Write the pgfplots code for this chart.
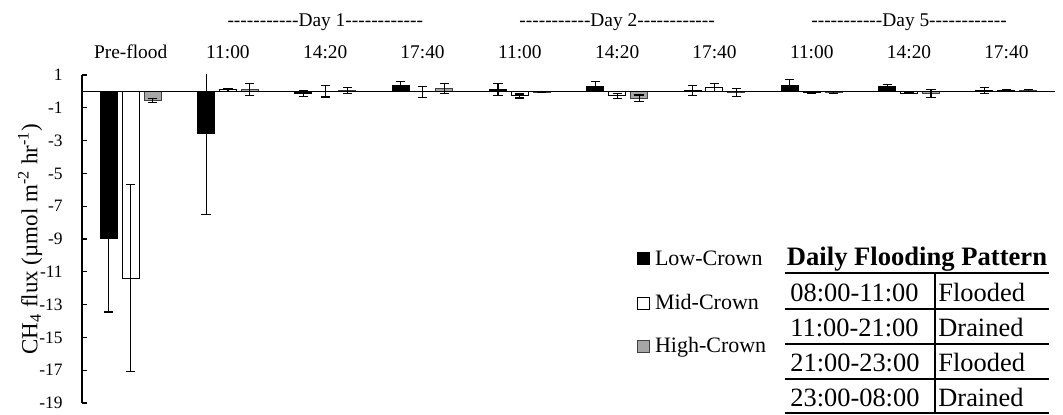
\documentclass[border=0pt]{standalone}
\usepackage{pgfplots}
\pgfplotsset{compat=1.18}
\usepackage{fontspec}
\setmainfont{Liberation Serif}
\definecolor{hc}{RGB}{166,166,166}
\pgfplotsset{sqlegend/.style={legend image code/.code={\draw[##1] (0pt,-2.5pt) rectangle (6pt,3.5pt);}}}
\newcommand{\dsh}[1]{\foreach \k in {1,...,#1}{-}}
\begin{document}
\begin{tikzpicture}
\useasboundingbox (-41pt,-6pt) rectangle (490.5pt,201.5pt);
\begin{axis}[
  at={(0pt,0pt)}, anchor=south west,
  scale only axis, width=486.5pt, height=164pt,
  xmin=-0.5, xmax=9.5, ymin=-19, ymax=1,
  clip mode=individual,
  axis x line=top, axis y line=left,
  axis line style={-},
  x axis line style={draw=none},
  y axis line style={line width=0.6pt},
  xtick={0,...,9},
  xticklabels={Pre-flood,11:00,14:20,17:40,11:00,14:20,17:40,11:00,14:20,17:40},
  xtick style={draw=none},
  xticklabel style={font=\fontsize{9.7}{11}\selectfont, inner sep=0pt, text depth=0pt, anchor=base, yshift=8pt},
  ytick={1,-1,-3,-5,-7,-9,-11,-13,-15,-17,-19},
  tick align=inside, major tick length=2.5pt,
  ytick style={line width=0.6pt, black},
  yticklabel style={font=\fontsize{8.7}{10}\selectfont, inner sep=0pt, anchor=east, xshift=-9.5pt},
  /pgf/number format/assume math mode=true,
  ylabel={CH\textsubscript{4} flux (µmol m\textsuperscript{-2} hr\textsuperscript{-1})},
  ylabel style={at={(axis description cs:-0.0534,0.5)}, anchor=center, font=\fontsize{11.5}{13}\selectfont},
  legend style={draw=none, fill=none, inner sep=0pt, outer sep=0pt,
    at={(axis description cs:0.5704,0.4695)}, anchor=north west,
    font=\fontsize{11}{13}\selectfont, row sep=11pt,
    nodes={inner sep=0pt, text height=8pt, text depth=3pt},
    /tikz/every odd column/.append style={column sep=2.5pt}},
  legend cell align=left,
  error bars/y dir=both, error bars/y explicit,
  error bars/error bar style={line width=0.55pt, black},
  error bars/error mark options={rotate=90, mark size=2.3pt, line width=0.55pt, black},
]
% Low-Crown (x = category - 0.225)
\addplot[ybar, bar width=0.175, bar shift=0, fill=black, draw=black, line width=0.5pt, sqlegend]
  coordinates {
  (-0.225,-9.0) +- (0,4.45)
  (0.775,-2.55) +- (0,4.95)
  (1.775,-0.13) +- (0,0.2)
  (2.775,0.37) +- (0,0.25)
  (3.775,0.11) +- (0,0.36)
  (4.775,0.32) +- (0,0.28)
  (5.775,0.06) +- (0,0.31)
  (6.775,0.37) +- (0,0.33)
  (7.775,0.27) +- (0,0.13)
  (8.775,0.06) +- (0,0.2)
  };
% Mid-Crown (x = category)
\addplot[ybar, bar width=0.175, bar shift=0, fill=white, draw=black, line width=0.5pt, sqlegend]
  coordinates {
  (0,-11.4) +- (0,5.7)
  (1,0.1) +- (0,0.1)
  (2,0.02) +- (0,0.36)
  (3,-0.03) +- (0,0.32)
  (4,-0.28) +- (0,0.12)
  (5,-0.28) +- (0,0.15)
  (6,0.25) +- (0,0.25)
  (7,-0.05) +- (0,0.05)
  (8,-0.1) +- (0,0.05)
  (9,0.08) +- (0,0.05)
  };
% High-Crown (x = category + 0.225)
\addplot[ybar, bar width=0.175, bar shift=0, fill=hc, draw=black!75, line width=0.5pt, sqlegend]
  coordinates {
  (0.225,-0.55) +- (0,0.12)
  (1.225,0.13) +- (0,0.37)
  (2.225,0.05) +- (0,0.2)
  (3.225,0.18) +- (0,0.3)
  (4.225,-0.05) +- (0,0.03)
  (5.225,-0.42) +- (0,0.2)
  (6.225,-0.07) +- (0,0.22)
  (7.225,-0.06) +- (0,0.05)
  (8.225,-0.12) +- (0,0.25)
  (9.225,0.06) +- (0,0.04)
  };
\legend{Low-Crown,Mid-Crown,High-Crown}
\draw[line width=0.7pt] (axis cs:-0.5,0) -- (axis cs:9.5,0);
\node[anchor=base, inner sep=0pt, font=\fontsize{9.7}{11}\selectfont, yshift=24pt] at (axis cs:2,1) {\dsh{11}Day 1\dsh{12}};
\node[anchor=base, inner sep=0pt, font=\fontsize{9.7}{11}\selectfont, yshift=24pt] at (axis cs:5,1) {\dsh{11}Day 2\dsh{12}};
\node[anchor=base, inner sep=0pt, font=\fontsize{9.7}{11}\selectfont, yshift=24pt] at (axis cs:8,1) {\dsh{11}Day 5\dsh{12}};
\end{axis}
% Daily flooding pattern table
\node[anchor=base, inner sep=0pt, font=\bfseries\fontsize{13.3}{15}\selectfont] at (417.5pt,68.5pt) {Daily Flooding Pattern};
\foreach \yy in {65,47,29.5,12,-5} {\draw[line width=0.9pt] (351.5pt,\yy pt) -- (483.5pt,\yy pt);}
\draw[line width=0.8pt] (426.5pt,65pt) -- (426.5pt,-5pt);
\begin{scope}[every node/.style={anchor=base west, inner sep=0pt, font=\fontsize{13.2}{15}\selectfont}]
\node at (354pt,50.5pt) {08:00-11:00};
\node at (428pt,50.5pt) {Flooded};
\node at (354pt,33pt) {11:00-21:00};
\node at (428pt,33pt) {Drained};
\node at (354pt,15.5pt) {21:00-23:00};
\node at (428pt,15.5pt) {Flooded};
\node at (354pt,-2pt) {23:00-08:00};
\node at (428pt,-2pt) {Drained};
\end{scope}
\end{tikzpicture}
\end{document}
